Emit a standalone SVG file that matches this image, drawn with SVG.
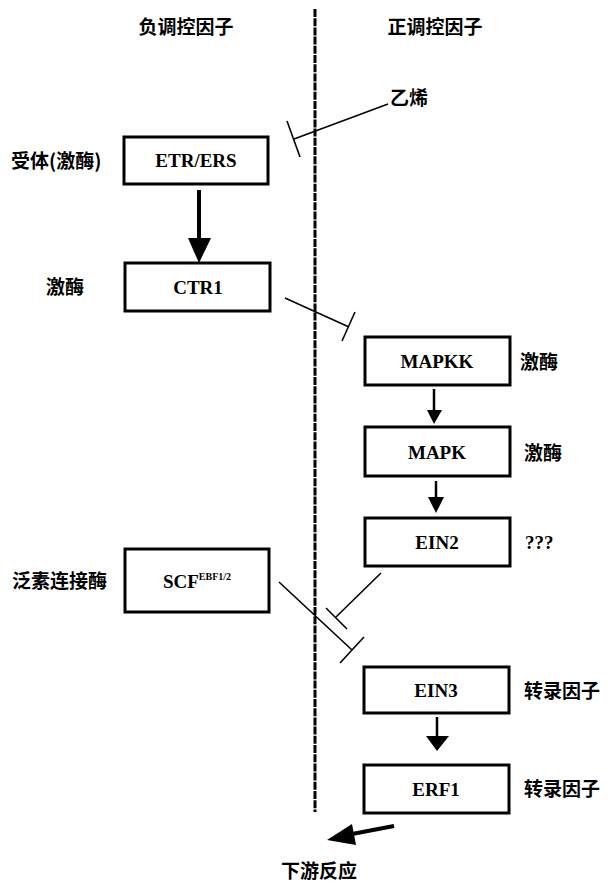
<svg xmlns="http://www.w3.org/2000/svg" width="612" height="886" viewBox="0 0 612 886">
<style>
.box{fill:#fff;stroke:#000;stroke-width:3}
.bt{font-family:"Liberation Serif",serif;font-weight:bold;font-size:19px;text-anchor:middle}
.cn{font-family:"Noto Sans CJK SC",sans-serif;font-weight:bold;font-size:19px}
.ln{stroke:#000;stroke-width:1.6;fill:none}
</style>
<rect width="612" height="886" fill="#fff"/>
<g id="headers">
<text class="cn" x="186" y="34" text-anchor="middle">负调控因子</text>
<text class="cn" x="435" y="34" text-anchor="middle">正调控因子</text>
</g>
<g id="divider">
<line x1="315" y1="9" x2="315" y2="812" stroke="#000" stroke-width="3" stroke-dasharray="8 1.2"/>
</g>
<g id="ethylene"><text class="cn" x="390" y="105">乙烯</text></g>
<g id="etr">
<rect class="box" x="124" y="137" width="144" height="47"/>
<text class="bt" x="196" y="167">ETR/ERS</text>
<text class="cn" x="11" y="168">受体(激酶)</text>
</g>
<g id="ctr1">
<rect class="box" x="125" y="263" width="145" height="48"/>
<text class="bt" x="198" y="294">CTR1</text>
<text class="cn" x="46" y="294">激酶</text>
</g>
<g id="mapkk">
<rect class="box" x="365" y="337" width="145" height="48"/>
<text class="bt" x="437" y="368">MAPKK</text>
<text class="cn" x="520" y="369">激酶</text>
</g>
<g id="mapk">
<rect class="box" x="365" y="427" width="145" height="49"/>
<text class="bt" x="437" y="459">MAPK</text>
<text class="cn" x="524" y="460">激酶</text>
</g>
<g id="ein2">
<rect class="box" x="365" y="518" width="145" height="48"/>
<text class="bt" x="437" y="549">EIN2</text>
<text class="bt" x="525" y="549" style="text-anchor:start">???</text>
</g>
<g id="scf">
<rect class="box" x="125" y="549" width="144" height="63"/>
<text class="bt" x="197" y="588">SCF<tspan font-size="10" dy="-8">EBF1/2</tspan></text>
<text class="cn" x="12" y="588">泛素连接酶</text>
</g>
<g id="ein3">
<rect class="box" x="364" y="667" width="145" height="46"/>
<text class="bt" x="436" y="697">EIN3</text>
<text class="cn" x="524" y="698">转录因子</text>
</g>
<g id="erf1">
<rect class="box" x="364" y="765" width="145" height="48"/>
<text class="bt" x="436" y="796">ERF1</text>
<text class="cn" x="524" y="796">转录因子</text>
</g>
<g id="downstream"><text class="cn" x="319" y="878" text-anchor="middle">下游反应</text></g>
<g id="connectors">
<line class="ln" x1="388" y1="104" x2="294" y2="139"/>
<line class="ln" x1="287" y1="121" x2="300" y2="157"/>
<line x1="199" y1="190" x2="199" y2="240" stroke="#000" stroke-width="4"/>
<polygon points="188,238 211,238 199,263"/>
<line class="ln" x1="285" y1="298" x2="349" y2="327"/>
<line class="ln" x1="355" y1="312" x2="342" y2="341"/>
<line x1="434" y1="389" x2="434" y2="412" stroke="#000" stroke-width="2.5"/>
<polygon points="427,410 442,410 434,424"/>
<line x1="436" y1="481" x2="436" y2="500" stroke="#000" stroke-width="2.5"/>
<polygon points="428,497 444,497 436,513"/>
<line class="ln" x1="381" y1="573" x2="336" y2="617"/>
<line class="ln" x1="326" y1="608" x2="347" y2="629"/>
<line class="ln" x1="279" y1="582" x2="352" y2="650"/>
<line class="ln" x1="364" y1="637" x2="340" y2="663"/>
<line x1="437" y1="717" x2="437" y2="738" stroke="#000" stroke-width="2.5"/>
<polygon points="426,736 449,736 437,751"/>
<line x1="394" y1="826" x2="352" y2="834" stroke="#000" stroke-width="4"/>
<polygon points="327,840 352,824 356,845"/>
</g>
</svg>
